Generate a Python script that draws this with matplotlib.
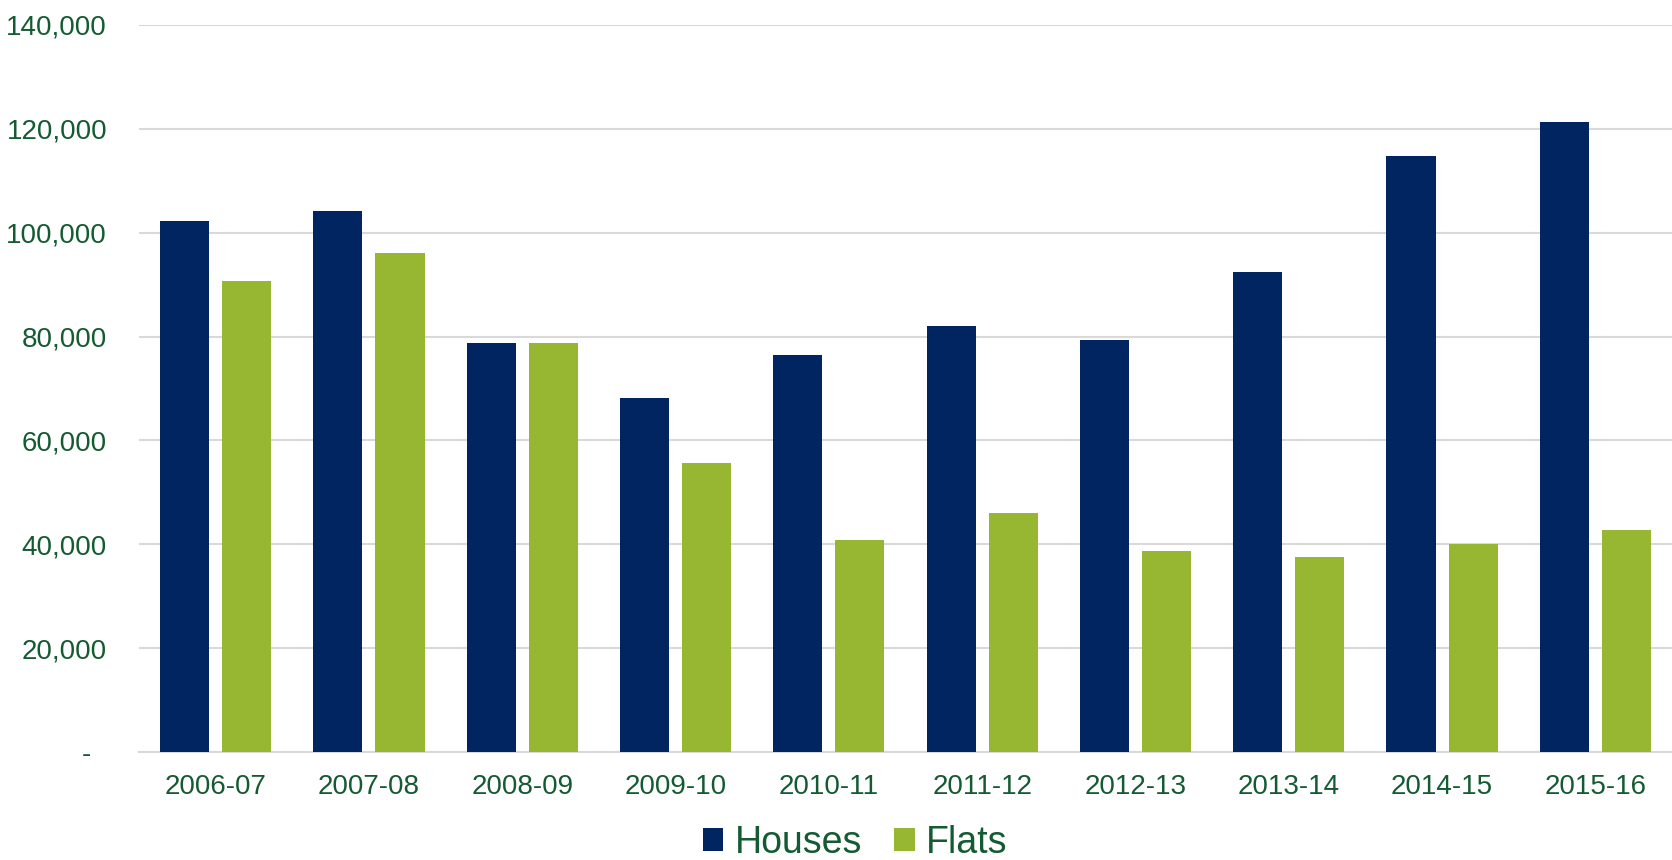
import numpy as np
import matplotlib
matplotlib.use("Agg")
import matplotlib.pyplot as plt
from matplotlib.ticker import FuncFormatter

# 数据
years = ['2006-07', '2007-08', '2008-09', '2009-10', '2010-11',
         '2011-12', '2012-13', '2013-14', '2014-15', '2015-16']
houses = [102300, 104200, 78700, 68200, 76400, 82000, 79300, 92400, 114800, 121300]
flats = [90750, 96150, 78700, 55700, 40900, 46000, 38800, 37600, 40100, 42800]

NAVY = '#002561'
GREEN = '#97B631'
TEXT = '#145A32'
GRID = '#D9D9D9'

plt.rcParams['font.family'] = ['Liberation Sans', 'DejaVu Sans']

fig = plt.figure(figsize=(16.72, 8.60), dpi=100)
ax = fig.add_axes([139/1672, 1 - 752/860, 1 - 139/1672, (752 - 25)/860])

x = np.arange(len(years))
w = 0.32
off = 0.2025
ax.bar(x - off, houses, w, color=NAVY, label='Houses', zorder=3)
ax.bar(x + off, flats, w, color=GREEN, label='Flats', zorder=3)

ax.set_xlim(-0.5, len(years) - 0.5)
ax.set_ylim(0, 140000)
ax.set_yticks(np.arange(0, 140001, 20000))
ax.yaxis.set_major_formatter(FuncFormatter(lambda v, p: '-  ' if v == 0 else f'{int(v):,}'))
ax.set_xticks(x)
ax.set_xticklabels(years)

ax.grid(axis='y', color=GRID, linewidth=1.5, zorder=0)
for s in ['top', 'right', 'left']:
    ax.spines[s].set_visible(False)
ax.spines['bottom'].set_color(GRID)
ax.spines['bottom'].set_linewidth(1.5)
ax.tick_params(axis='both', length=0, labelsize=20, labelcolor=TEXT)
ax.tick_params(axis='y', pad=23)
ax.tick_params(axis='x', pad=16)

fig.legend(loc='center', bbox_to_anchor=(855/1672, 1 - 843/860), ncol=2,
           frameon=False, fontsize=27, labelcolor=TEXT,
           handlelength=0.55, handleheight=0.55, handletextpad=0.3,
           columnspacing=0.85, borderpad=0)

fig.savefig('out.png', dpi=100)
